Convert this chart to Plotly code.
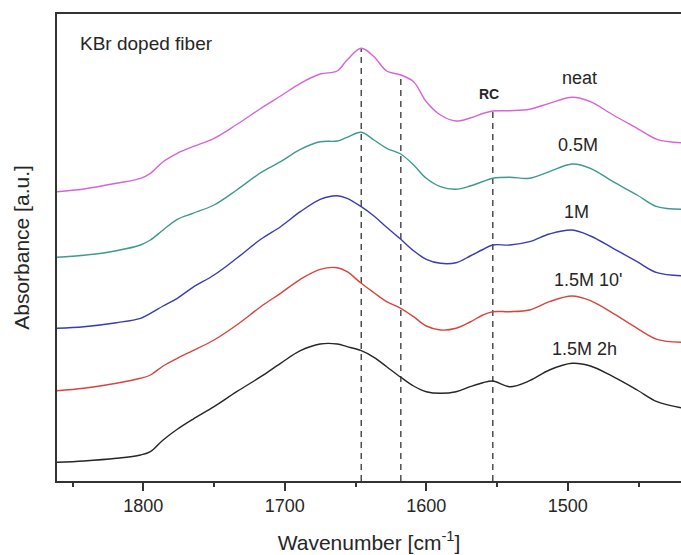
import plotly.graph_objects as go

# FTIR spectra of KBr doped fibers (stacked, arbitrary offsets)
wavenumber = [1861, 1842, 1819, 1802, 1795, 1786, 1776, 1765, 1750, 1734, 1717,
              1703, 1689, 1675, 1663, 1656, 1646, 1637, 1628, 1618, 1609, 1600,
              1590, 1579, 1569, 1560, 1553, 1541, 1527, 1513, 1497, 1484, 1468,
              1451, 1437, 1420]

neat = [2.893, 2.920, 2.977, 3.027, 3.077, 3.193, 3.277, 3.343, 3.427, 3.565, 3.725,
        3.850, 3.977, 4.070, 4.100, 4.210, 4.327, 4.243, 4.100, 4.060, 3.993, 3.793,
        3.660, 3.600, 3.630, 3.675, 3.700, 3.703, 3.717, 3.777, 3.837, 3.793, 3.660,
        3.527, 3.417, 3.383]

m05 = [2.237, 2.257, 2.303, 2.360, 2.410, 2.510, 2.617, 2.677, 2.760, 2.910, 3.083,
       3.193, 3.317, 3.393, 3.400, 3.437, 3.487, 3.410, 3.327, 3.270, 3.160, 3.027,
       2.943, 2.917, 2.950, 2.995, 3.027, 3.037, 3.027, 3.093, 3.170, 3.127, 2.993,
       2.860, 2.743, 2.717]

m1 = [1.527, 1.543, 1.583, 1.627, 1.677, 1.750, 1.827, 1.937, 2.060, 2.227, 2.417,
      2.543, 2.693, 2.817, 2.853, 2.827, 2.743, 2.650, 2.537, 2.417, 2.303, 2.217,
      2.177, 2.183, 2.250, 2.315, 2.360, 2.360, 2.393, 2.470, 2.510, 2.450, 2.327,
      2.193, 2.083, 2.053]

m15_10 = [0.903, 0.927, 0.977, 1.027, 1.060, 1.150, 1.227, 1.303, 1.410, 1.560, 1.743,
          1.877, 2.017, 2.117, 2.133, 2.093, 1.977, 1.883, 1.793, 1.727, 1.643, 1.550,
          1.510, 1.527, 1.590, 1.660, 1.693, 1.693, 1.710, 1.793, 1.850, 1.803, 1.677,
          1.527, 1.417, 1.387]

m15_2h = [0.187, 0.200, 0.227, 0.260, 0.293, 0.410, 0.517, 0.617, 0.743, 0.893, 1.043,
          1.177, 1.303, 1.370, 1.370, 1.343, 1.303, 1.237, 1.143, 1.037, 0.950, 0.893,
          0.877, 0.893, 0.943, 0.983, 1.000, 0.943, 1.003, 1.110, 1.177, 1.150, 1.043,
          0.910, 0.793, 0.733]

series_names = ["neat", "0.5M", "1M", "1.5M 10'", "1.5M 2h"]
series_colors = ["#D764D7", "#3E9A8C", "#3B3BB3", "#D8453E", "#262626"]
series_values = [neat, m05, m1, m15_10, m15_2h]

# curve labels (wavenumber, absorbance)
label_x = [1492, 1493, 1494, 1486, 1488]
label_y = [4.03, 3.36, 2.69, 2.01, 1.32]

# marker bands (dashed lines) and the neat-curve value where each starts
band_x = [1646, 1618, 1553]
band_top = [4.327, 4.060, 3.700]

FONT = "Liberation Sans, Arial, sans-serif"
TXT = "#262626"

fig = go.Figure()

for bx, bt in zip(band_x, band_top):
    fig.add_trace(go.Scatter(
        x=[bx, bx], y=[0, bt], mode="lines",
        line=dict(color="#333333", width=1.3, dash="6px,5px"),
        hoverinfo="skip", showlegend=False))

for name, color, vals in zip(series_names, series_colors, series_values):
    fig.add_trace(go.Scatter(
        x=wavenumber, y=vals, mode="lines", name=name,
        line=dict(color=color, width=1.4, shape="spline", smoothing=1.0),
        showlegend=False))

for name, lx, ly in zip(series_names, label_x, label_y):
    fig.add_annotation(x=lx, y=ly, text=name, showarrow=False,
                       font=dict(family=FONT, size=18, color=TXT),
                       xanchor="center", yanchor="middle")

fig.add_annotation(x=1556, y=3.87, text="<b>RC</b>", showarrow=False,
                   font=dict(family=FONT, size=14, color=TXT),
                   xanchor="center", yanchor="middle")

fig.add_annotation(x=1846, y=4.38, text="KBr doped fiber", showarrow=False,
                   font=dict(family=FONT, size=19, color=TXT),
                   xanchor="left", yanchor="middle")

fig.update_layout(
    width=681, height=555,
    margin=dict(l=57, r=0, t=14, b=74),
    paper_bgcolor="white", plot_bgcolor="white",
    font=dict(family=FONT, color=TXT),
)

fig.update_xaxes(
    range=[1861, 1420], showgrid=False, zeroline=False,
    showline=True, linecolor="#333333", linewidth=1.5, mirror=True,
    ticks="outside", ticklen=8, tickwidth=1.5, tickcolor="#333333",
    tick0=1500, dtick=100,
    minor=dict(ticks="outside", ticklen=4, tickwidth=1.5, tickcolor="#333333",
               tick0=1450, dtick=50, showgrid=False),
    tickfont=dict(family=FONT, size=18, color=TXT),
    title=dict(text="Wavenumber [cm<sup>-1</sup>]",
               font=dict(family=FONT, size=21, color=TXT), standoff=20),
)

fig.update_yaxes(
    range=[0, 4.67], showgrid=False, zeroline=False,
    showline=True, linecolor="#333333", linewidth=1.5,
    showticklabels=False, ticks="",
    title=dict(text="Absorbance [a.u.]",
               font=dict(family=FONT, size=21, color=TXT), standoff=20),
)

fig.write_html("out.html")
